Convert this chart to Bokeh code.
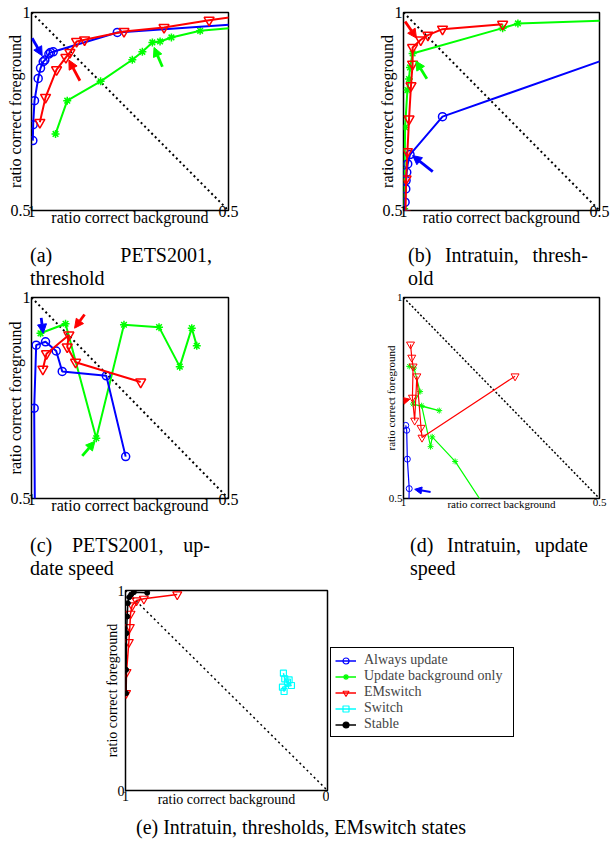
from bokeh.plotting import figure
from bokeh.layouts import column, row
from bokeh.models import (Range1d, FixedTicker, NumeralTickFormatter, Arrow, NormalHead,
                          Legend, LegendItem, Div, Spacer)
from bokeh.embed import file_html
from bokeh.resources import INLINE

FONT = "Liberation Serif"
BLUE, GREEN, RED, CYAN, BLACK = "#0000ff", "#00ff00", "#ff0000", "#00ffff", "#000000"

x_label = "ratio correct background"
y_label = "ratio correct foreground"
ticks_half = [0.5, 1]
ticks_full = [0, 1]
legend_labels = ["Always update", "Update background only", "EMswitch", "Switch", "Stable"]
captions = [["(a) PETS2001,", "threshold"], ["(b) Intratuin, thresh-", "old"],
            ["(c) PETS2001, up-", "date speed"], ["(d) Intratuin, update", "speed"],
            ["(e) Intratuin, thresholds, EMswitch states"]]

# ---- (a) PETS2001, threshold
a_always_x = [0.9966, 0.9958, 0.9924, 0.983, 0.9771, 0.9703, 0.9661, 0.9559, 0.9517, 0.9449, 0.7822, 0.45]
a_always_y = [0.6765, 0.7168, 0.7773, 0.8336, 0.8597, 0.8756, 0.8798, 0.895, 0.8992, 0.9008, 0.9496, 0.9723]
a_bg_x = [0.939, 0.9093, 0.8246, 0.7441, 0.7186, 0.6932, 0.6737, 0.6449, 0.572, 0.45]
a_bg_y = [0.6933, 0.7773, 0.8261, 0.8807, 0.9008, 0.9244, 0.9269, 0.937, 0.9538, 0.964]
a_em_x = [0.9788, 0.9644, 0.9364, 0.9127, 0.9025, 0.8856, 0.8653, 0.7653, 0.6636, 0.5492, 0.45]
a_em_y = [0.7227, 0.7857, 0.8555, 0.8866, 0.8992, 0.9269, 0.9311, 0.9521, 0.9622, 0.9807, 0.994]
a_arrow_x0 = [0.9983, 0.6678, 0.8771]
a_arrow_y0 = [0.9353, 0.863, 0.8277]
a_arrow_x1 = [0.9729, 0.689, 0.9051]
a_arrow_y1 = [0.8908, 0.9118, 0.8798]

# ---- (b) Intratuin, threshold
b_always_x = [0.9967, 0.9959, 0.9942, 0.9934, 0.9917, 0.9892, 0.9834, 0.9005, 0.45]
b_always_y = [0.4916, 0.521, 0.5546, 0.5756, 0.5966, 0.6176, 0.6412, 0.737, 0.894]
b_bg_x = [0.9983, 0.9959, 0.99, 0.9859, 0.9834, 0.9768, 0.7471, 0.7081, 0.45]
b_bg_y = [0.5042, 0.7101, 0.8042, 0.8319, 0.8613, 0.8966, 0.9605, 0.9723, 0.981]
b_em_x = [0.995, 0.9934, 0.99, 0.9859, 0.9809, 0.9768, 0.9768, 0.956, 0.9378, 0.9005, 0.7471]
b_em_y = [0.4916, 0.5798, 0.6487, 0.7311, 0.8151, 0.8697, 0.9118, 0.9311, 0.9429, 0.958, 0.9706]
b_arrow_x0 = [0.9254, 0.9403, 0.9959]
b_arrow_y0 = [0.5983, 0.8328, 0.9773]
b_arrow_x1 = [0.9768, 0.9685, 0.9668]
b_arrow_y1 = [0.6387, 0.8773, 0.9353]

# ---- (c) PETS2001, update speed
c_always_x = [0.9915, 0.9932, 0.9881, 0.9644, 0.9373, 0.922, 0.8102, 0.761]
c_always_y = [0.483, 0.7246, 0.8814, 0.8898, 0.8669, 0.8161, 0.8051, 0.6042]
c_bg_x = [0.9771, 0.9136, 0.8356, 0.7653, 0.6763, 0.6237, 0.5932, 0.5805]
c_bg_y = [0.911, 0.9347, 0.65, 0.9322, 0.9263, 0.828, 0.9237, 0.8797]
c_em_x = [0.9712, 0.9619, 0.9051, 0.9093, 0.8881, 0.7229]
c_em_y = [0.822, 0.8602, 0.9068, 0.8771, 0.839, 0.7898]
c_arrow_x0 = [0.9754, 0.8712, 0.8653]
c_arrow_y0 = [0.9492, 0.6059, 0.9576]
c_arrow_x1 = [0.9703, 0.839, 0.8907]
c_arrow_y1 = [0.911, 0.6424, 0.9237]

# ---- (d) Intratuin, update speed
d_always_x = [0.9943, 0.9919, 0.9902, 0.9854, 0.9862]
d_always_y = [0.6819, 0.6697, 0.5979, 0.5245, 0.4902]
d_bg_x = [0.9854, 0.9732, 0.9577, 0.9756, 0.9089, 0.9537, 0.9309, 0.9268, 0.8683, 0.7886]
d_bg_y = [0.8287, 0.8246, 0.7659, 0.7349, 0.7186, 0.7308, 0.6289, 0.6533, 0.5922, 0.4739]
d_em_x = [0.9821, 0.9789, 0.9756, 0.9772, 0.9715, 0.9659, 0.9553, 0.9528, 0.7154]
d_em_y = [0.8834, 0.8507, 0.8287, 0.7512, 0.6941, 0.8042, 0.6762, 0.6517, 0.8042]
d_arrow_x0 = [0.9309, None, 1.0]
d_arrow_y0 = [0.5163, None, 0.7431]
d_arrow_x1 = [0.9715, None, 0.9837]
d_arrow_y1 = [0.5228, None, 0.7471]

# ---- (e) Intratuin, thresholds, EMswitch states
e_em_x = [0.997, 0.995, 0.9835, 0.9785, 0.9752, 0.9669, 0.9455, 0.9091, 0.7438]
e_em_y = [0.4867, 0.5917, 0.7417, 0.8167, 0.8833, 0.925, 0.95, 0.9583, 0.98]
e_switch_x = [0.2182, 0.2116, 0.1983, 0.1785, 0.2231, 0.2149, 0.1901]
e_switch_y = [0.5867, 0.5583, 0.5417, 0.525, 0.5167, 0.495, 0.5533]
e_stable_x = [0.997, 0.997, 0.995, 0.9917, 0.9884, 0.9818, 0.9719, 0.9587, 0.8926]
e_stable_y = [0.4867, 0.6033, 0.7867, 0.87, 0.9367, 0.9667, 0.98, 0.9917, 0.9883]


def make_fig(xr, yr, ticks, fw, fh, bl, br, bt, bb, fs, tick_off, lab_off_x, lab_off_y):
    p = figure(width=bl + fw + br, height=bt + fh + bb, title=None,
               x_range=Range1d(*xr), y_range=Range1d(*yr),
               output_backend="svg", toolbar_location=None,
               min_border_left=bl, min_border_right=br, min_border_top=bt, min_border_bottom=bb)
    p.xgrid.visible = False
    p.ygrid.visible = False
    p.outline_line_color = "black"
    p.outline_line_width = 1.5
    p.outline_line_alpha = 1.0
    p.background_fill_color = "white"
    p.border_fill_color = "white"
    for ax in (p.xaxis[0], p.yaxis[0]):
        ax.ticker = FixedTicker(ticks=ticks)
        ax.formatter = NumeralTickFormatter(format="0.[0]")
        ax.major_tick_line_color = None
        ax.minor_tick_line_color = None
        ax.major_tick_in = 0
        ax.major_tick_out = 0
        ax.minor_tick_in = 0
        ax.minor_tick_out = 0
        ax.axis_line_color = None
        ax.major_label_text_font = FONT
        ax.major_label_text_font_size = f"{fs}px"
        ax.major_label_text_color = "black"
        ax.axis_label_text_font = FONT
        ax.axis_label_text_font_size = f"{fs}px"
        ax.axis_label_text_font_style = "normal"
        ax.axis_label_text_color = "black"
    p.xaxis[0].major_label_standoff = tick_off
    p.xaxis[0].axis_label_standoff = lab_off_x
    p.yaxis[0].major_label_standoff = 1
    p.yaxis[0].axis_label_standoff = lab_off_y
    p.xaxis[0].axis_label = x_label
    p.yaxis[0].axis_label = y_label
    return p


def diag(p, xs, ys, lw, dash):
    p.line(xs, ys, line_color="black", line_width=lw, line_dash=dash)


def series(p, xs, ys, color, marker, size, lw, mlw, fill=None):
    l = p.line(xs, ys, line_color=color, line_width=lw)
    s = p.scatter(xs, ys, marker=marker, size=size, line_color=color,
                  fill_color=fill, line_width=mlw)
    return l, s


def arrows(p, x0, y0, x1, y1, colors, lw, hs):
    for i in range(len(x0)):
        if x0[i] is None:
            continue
        c = colors[i]
        p.add_layout(Arrow(end=NormalHead(size=hs, fill_color=c, line_color=c, line_width=1),
                           x_start=x0[i], y_start=y0[i], x_end=x1[i], y_end=y1[i],
                           line_color=c, line_width=lw))


def std_panel(p, ax, ay, gx, gy, rx, ry, arr, lw, sizes, mlw, hs, diag_lw, dash):
    diag(p, [1, 0.5], [1, 0.5], diag_lw, dash)
    series(p, gx, gy, GREEN, "asterisk", sizes[1], lw, mlw)
    series(p, ax, ay, BLUE, "circle", sizes[0], lw, mlw)
    series(p, rx, ry, RED, "inverted_triangle", sizes[2], lw, mlw)
    arrows(p, *arr, [BLUE, GREEN, RED], lw + 0.8, hs)


# Row 1: frames 12..210
pa = make_fig((1, 0.5), (0.5, 1), ticks_half, 197, 198, 31, 12, 12, 32, 16, -5, -11, -16)
std_panel(pa, a_always_x, a_always_y, a_bg_x, a_bg_y, a_em_x, a_em_y,
          (a_arrow_x0, a_arrow_y0, a_arrow_x1, a_arrow_y1), 2, (8, 8, 10), 1.5, 9, 2, "2 3")
pb = make_fig((1, 0.5), (0.5, 1), ticks_half, 196, 198, 31, 12, 12, 32, 16, -5, -11, -16)
std_panel(pb, b_always_x, b_always_y, b_bg_x, b_bg_y, b_em_x, b_em_y,
          (b_arrow_x0, b_arrow_y0, b_arrow_x1, b_arrow_y1), 2, (8, 8, 10), 1.5, 9, 2, "2 3")
# Row 2: frames 297..498
pc = make_fig((1, 0.5), (0.5, 1), ticks_half, 197, 201, 31, 12, 7, 36, 16, -5, -11, -16)
std_panel(pc, c_always_x, c_always_y, c_bg_x, c_bg_y, c_em_x, c_em_y,
          (c_arrow_x0, c_arrow_y0, c_arrow_x1, c_arrow_y1), 2, (8, 8, 10), 1.5, 9, 2, "2 3")
pd = make_fig((1, 0.5), (0.5, 1), ticks_half, 196, 201, 31, 12, 7, 36, 11, 0, -11, -11)
std_panel(pd, d_always_x, d_always_y, d_bg_x, d_bg_y, d_em_x, d_em_y,
          (d_arrow_x0, d_arrow_y0, d_arrow_x1, d_arrow_y1), 1.2, (6, 6, 8), 1, 7, 1.5, "2 2")

# Row 3: panel (e), frame 590..790
pe = make_fig((1, 0), (0, 1), ticks_full, 202, 200, 31, 2, 10, 26, 14, 0, -12, -5)
diag(pe, [1, 0], [1, 0], 1.5, "2 3")
l_em, s_em = series(pe, e_em_x, e_em_y, RED, "inverted_triangle", 9, 1.5, 1.2)
l_sw, s_sw = series(pe, e_switch_x, e_switch_y, CYAN, "square", 6, 1.5, 1.2)
l_st, s_st = series(pe, e_stable_x, e_stable_y, BLACK, "circle", 5, 1.5, 1, fill=BLACK)

# Legend of panel (e), drawn in its own borderless figure to the right
pleg = figure(width=190, height=236, title=None, x_axis_type=None, y_axis_type=None,
              x_range=Range1d(0, 1), y_range=Range1d(0, 1),
              output_backend="svg", toolbar_location=None, min_border=0)
pleg.outline_line_color = None
pleg.xgrid.visible = False
pleg.ygrid.visible = False
leg_styles = [(BLUE, "circle", 7, None), (GREEN, "asterisk", 7, None),
              (RED, "inverted_triangle", 9, None), (CYAN, "square", 6, None),
              (BLACK, "circle", 5, BLACK)]
items = []
for lab, (c, m, s, f) in zip(legend_labels, leg_styles):
    lr = pleg.line([-10, -9], [-10, -9], line_color=c, line_width=1.5)
    sr = pleg.scatter([-10], [-10], marker=m, size=s, line_color=c, fill_color=f, line_width=1.2)
    items.append(LegendItem(label=lab, renderers=[lr, sr]))
legend = Legend(items=items, location=(1, 53), border_line_color="black", border_line_width=1.5,
                border_line_alpha=1.0, label_text_font=FONT, label_text_font_size="14px",
                glyph_width=21, glyph_height=15, label_height=15, label_width=145, spacing=0,
                padding=4, margin=0, label_standoff=8, background_fill_alpha=1.0)
pleg.add_layout(legend)


def cap_div(lines, width, height, lh, justify=True):
    parts = []
    for i, t in enumerate(lines):
        if justify and i < len(lines) - 1:
            parts.append(f'<div style="text-align:justify;text-align-last:justify;">{t}</div>')
        else:
            parts.append(f'<div style="text-align:left;white-space:nowrap;">{t}</div>')
    html = (f'<div style="font-family:\'{FONT}\';font-size:20px;line-height:{lh}px;color:black;'
            f'width:{width}px;margin:0;padding:0;">' + "".join(parts) + "</div>")
    return Div(text=html, width=width, height=height, margin=0)


cap_a = cap_div(captions[0], 182, 46, 23)
cap_b = cap_div(captions[1], 180, 46, 23)
cap_c = cap_div(captions[2], 180, 46, 23)
cap_d = cap_div(captions[3], 178, 46, 23)
cap_e = cap_div(captions[4], 420, 23, 23, justify=False)


def sp(w, h):
    return Spacer(width=w, height=h, margin=0)


layout = column(
    row(pa, sp(132, 10), pb),                         # 0 .. 242
    sp(10, 2),                                        # 242 .. 244
    row(sp(30, 10), cap_a, sp(196, 10), cap_b),       # 244 .. 290
    row(pc, sp(132, 10), pd),                         # 290 .. 534
    row(sp(30, 10), cap_c, sp(200, 10), cap_d),       # 534 .. 580
    row(sp(94, 10), pe, pleg),                        # 580 .. 816
    row(sp(136, 10), cap_e),                          # 816 .. 839
)

open("out.html", "w").write(file_html(layout, INLINE))
